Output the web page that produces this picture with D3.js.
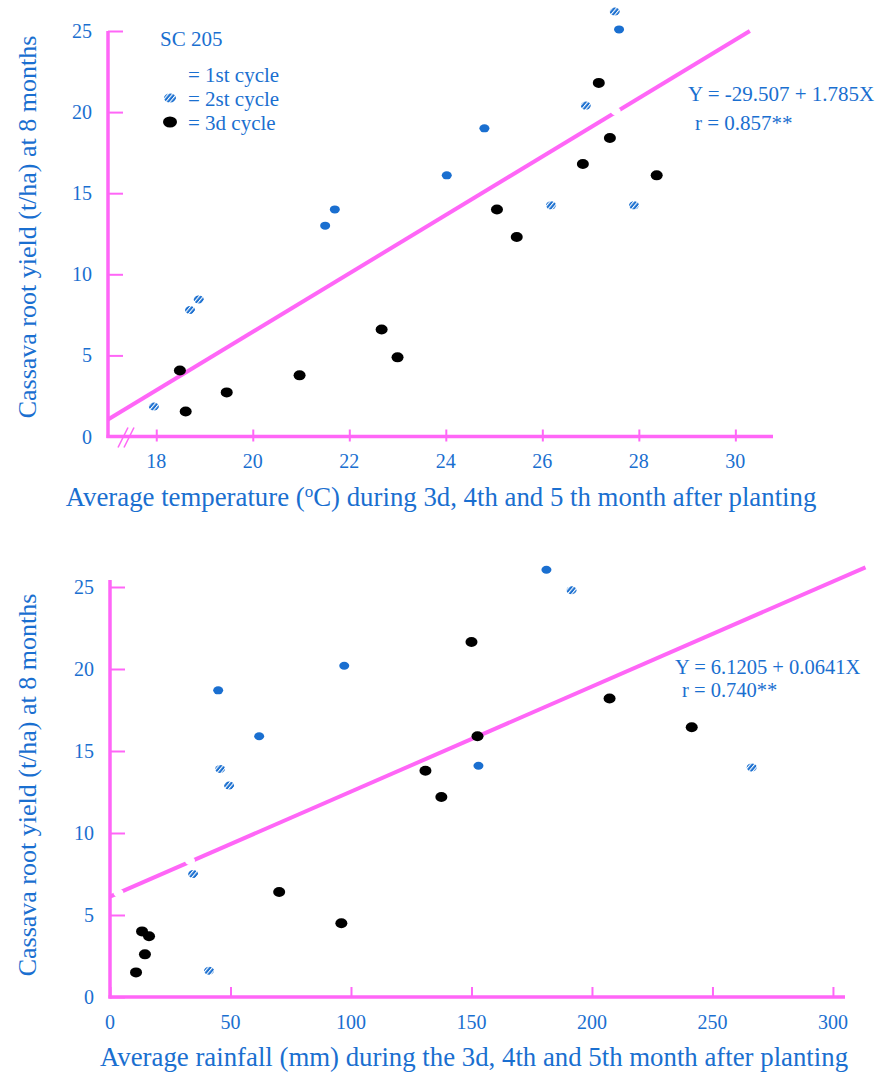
<!DOCTYPE html>
<html>
<head>
<meta charset="utf-8">
<script src="https://cdn.jsdelivr.net/npm/d3@7"></script>
<style>
  body { margin: 0; background: #fff; }
  svg text { font-family: "Liberation Serif", "Times New Roman", serif; fill: #1a6fd0; }
</style>
</head>
<body>
<svg id="chart" width="881" height="1075"></svg>
<script>
// ---- data ----
// top panel: temperature (°C) vs yield (t/ha)
const tempCycle1 = [[27.52, 20.05]];
const tempCycle2Solid = [[21.5, 13.0], [24.02, 16.1], [24.8, 19.0], [27.59, 25.1], [21.7, 14.0]];
const tempCycle2Hatched = [[17.95, 1.85], [18.7, 7.8], [18.88, 8.45], [26.18, 14.25], [26.9, 20.4], [27.5, 26.2], [27.9, 14.25]];
const tempCycle3 = [[18.49, 4.07], [18.61, 1.54], [19.46, 2.72], [20.97, 3.77], [22.67, 6.6], [23.0, 4.88],
  [25.06, 14.0], [25.47, 12.3], [26.84, 16.8], [27.17, 21.8], [27.4, 18.4], [28.37, 16.1]];
const tempTrend = [[17.0, 1.05], [30.3, 25.0]];
const tempTicks = [18, 20, 22, 24, 26, 28, 30];

// bottom panel: rainfall (mm) vs yield (t/ha)
const rainCycle1 = [[222.3, 19.6], [33.2, 8.3], [3.5, 6.35]];
const rainCycle2Solid = [[181.1, 26.05], [44.9, 18.7], [97.2, 20.2], [61.9, 15.9], [152.9, 14.1]];
const rainCycle2Hatched = [[191.5, 24.8], [45.7, 13.9], [49.4, 12.9], [266.3, 14.0], [34.5, 7.5], [41.1, 1.6]];
const rainCycle3 = [[150, 21.65], [207.3, 18.2], [241.4, 16.45], [152.5, 15.9], [130.9, 13.8], [137.5, 12.2],
  [70.2, 6.4], [96, 4.5], [13.3, 4.0], [16.2, 3.7], [14.5, 2.6], [10.8, 1.5]];
const rainTrend = [[0, 6.12], [313.5, 26.2]];
const rainTicks = [0, 50, 100, 150, 200, 250, 300];

const yieldTicks = [0, 5, 10, 15, 20, 25];

const yLabel = "Cassava root yield (t/ha) at 8 months";
const legendItems = ["= 1st cycle", "= 2st cycle", "= 3d cycle"];

const pink = "#ff66f7";
const blue = "#1a6fd0";

const svg = d3.select("#chart");

// hatched marker fill
const defs = svg.append("defs");
const pat = defs.append("pattern")
  .attr("id", "hatch")
  .attr("patternUnits", "userSpaceOnUse")
  .attr("width", 3.2)
  .attr("height", 3.2)
  .attr("patternTransform", "rotate(40)");
pat.append("rect").attr("width", 3.2).attr("height", 3.2).attr("fill", blue);
pat.append("rect").attr("width", 1.1).attr("height", 3.2).attr("fill", "#fff");

function drawPanel(p) {
  const x = d3.scaleLinear().domain(p.xDomain).range(p.xRange);
  const y = d3.scaleLinear().domain([0, 25]).range(p.yRange);
  const g = svg.append("g");

  // y axis
  const yAxis = g.append("g")
    .attr("transform", `translate(${p.xRange[0]},0)`)
    .call(d3.axisRight(y).tickValues(yieldTicks).tickSize(15).tickFormat(""));
  yAxis.select(".domain").remove();
  yAxis.selectAll(".tick line").attr("stroke", pink).attr("stroke-width", 2);
  g.append("line")
    .attr("x1", p.xRange[0]).attr("x2", p.xRange[0])
    .attr("y1", p.yTop).attr("y2", y(0) + 1.5)
    .attr("stroke", pink).attr("stroke-width", 3.5);

  g.selectAll(".ylab")
    .data(yieldTicks)
    .join("text")
    .attr("x", p.xRange[0] - 16)
    .attr("y", d => y(d))
    .attr("dy", "0.35em")
    .attr("text-anchor", "end")
    .attr("font-size", 20)
    .text(d => d);

  // x axis
  const xAxis = g.append("g")
    .attr("transform", `translate(0,${y(0)})`)
    .call(p.xTickDown ? d3.axisBottom(x).tickValues(p.ticks).tickSizeInner(5).tickSizeOuter(0).tickFormat("")
                      : d3.axisTop(x).tickValues(p.ticks).tickSizeInner(10).tickSizeOuter(0).tickFormat(""));
  xAxis.select(".domain").remove();
  xAxis.selectAll(".tick line").attr("stroke", pink).attr("stroke-width", 2);
  if (p.xTickDown) xAxis.selectAll(".tick line").attr("y1", -7);
  g.append("line")
    .attr("x1", p.xRange[0] - 1.5).attr("x2", p.xRange[1])
    .attr("y1", y(0)).attr("y2", y(0))
    .attr("stroke", pink).attr("stroke-width", 3.5);

  g.selectAll(".xlab")
    .data(p.ticks)
    .join("text")
    .attr("x", d => x(d))
    .attr("y", y(0) + p.tickLabelOffset)
    .attr("text-anchor", "middle")
    .attr("font-size", 20)
    .text(d => d);

  // axis break marks
  if (p.axisBreak) {
    [0, 6].forEach(off => {
      g.append("line")
        .attr("x1", p.xRange[0] + 10 + off).attr("y1", y(0) + 11)
        .attr("x2", p.xRange[0] + 20 + off).attr("y2", y(0) - 9)
        .attr("stroke", pink).attr("stroke-width", 1.5);
    });
  }

  // axis titles
  g.append("text")
    .attr("transform", `translate(${p.yTitleX},${p.yTitleY}) rotate(-90)`)
    .attr("text-anchor", "middle")
    .attr("font-size", 26)
    .text(yLabel);

  const xt = g.append("text")
    .attr("x", p.xTitleX)
    .attr("y", p.xTitleY)
    .attr("text-anchor", "middle")
    .attr("font-size", 26.8);
  p.xTitle.forEach(part => {
    const s = xt.append("tspan").text(part.t);
    if (part.sup) s.attr("font-size", 17).attr("baseline-shift", "super");
  });

  // trend line
  g.append("line")
    .attr("x1", x(p.trend[0][0])).attr("y1", y(p.trend[0][1]))
    .attr("x2", x(p.trend[1][0])).attr("y2", y(p.trend[1][1]))
    .attr("stroke", pink).attr("stroke-width", 4);

  // points
  g.selectAll(".c1").data(p.c1).join("ellipse")
    .attr("cx", d => x(d[0])).attr("cy", d => y(d[1]))
    .attr("rx", 5).attr("ry", 4).attr("fill", "#fff");
  g.selectAll(".c2s").data(p.c2s).join("ellipse")
    .attr("cx", d => x(d[0])).attr("cy", d => y(d[1]))
    .attr("rx", 5).attr("ry", 4).attr("fill", blue);
  g.selectAll(".c2h").data(p.c2h).join("ellipse")
    .attr("cx", d => x(d[0])).attr("cy", d => y(d[1]))
    .attr("rx", 5).attr("ry", 4).attr("fill", "url(#hatch)");
  g.selectAll(".c3").data(p.c3).join("ellipse")
    .attr("cx", d => x(d[0])).attr("cy", d => y(d[1]))
    .attr("rx", 6).attr("ry", 5).attr("fill", "#000");

  // equation
  g.append("text").attr("x", p.eqX).attr("y", p.eqY).attr("font-size", p.eqSize).text(p.eq);
  g.append("text").attr("x", p.eqX + p.rIndent).attr("y", p.eqY + p.rGap).attr("font-size", p.eqSize).text(p.r);
}

drawPanel({
  xDomain: [17, 30.78], xRange: [108, 773], yRange: [436.5, 31], yTop: 31,
  ticks: tempTicks, xTickDown: true, tickLabelOffset: 31, axisBreak: true,
  yTitleX: 36, yTitleY: 227, xTitleX: 441, xTitleY: 506,
  xTitle: [{t: "Average temperature ("}, {t: "o", sup: true}, {t: "C) during 3d, 4th and 5 th month after planting"}],
  trend: tempTrend,
  c1: tempCycle1, c2s: tempCycle2Solid, c2h: tempCycle2Hatched, c3: tempCycle3,
  eq: "Y = -29.507 + 1.785X", r: "r = 0.857**", eqX: 688, eqY: 101, rIndent: 7, rGap: 29, eqSize: 21
});

drawPanel({
  xDomain: [0, 305], xRange: [110, 845], yRange: [997, 587], yTop: 580,
  ticks: rainTicks, xTickDown: false, tickLabelOffset: 32, axisBreak: false,
  yTitleX: 36, yTitleY: 785, xTitleX: 474, xTitleY: 1066,
  xTitle: [{t: "Average rainfall (mm) during the 3d, 4th and 5th month after planting"}],
  trend: rainTrend,
  c1: rainCycle1, c2s: rainCycle2Solid, c2h: rainCycle2Hatched, c3: rainCycle3,
  eq: "Y = 6.1205 + 0.0641X", r: "r = 0.740**", eqX: 675, eqY: 674, rIndent: 7, rGap: 23, eqSize: 20.5
});

// legend (top panel)
svg.append("text").attr("x", 160).attr("y", 46).attr("font-size", 21).text("SC 205");
svg.selectAll(".leg")
  .data(legendItems)
  .join("text")
  .attr("x", 188)
  .attr("y", (d, i) => 82 + i * 24)
  .attr("font-size", 21)
  .text(d => d);
svg.append("ellipse").attr("cx", 170).attr("cy", 98).attr("rx", 6).attr("ry", 4.5).attr("fill", "url(#hatch)");
svg.append("ellipse").attr("cx", 170).attr("cy", 122).attr("rx", 7).attr("ry", 5.5).attr("fill", "#000");
</script>
</body>
</html>
